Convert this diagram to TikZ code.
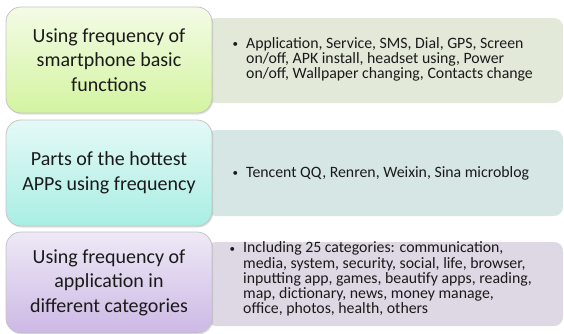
\documentclass[tikz,border=0pt]{standalone}
\usepackage{fontspec}
\setmainfont{Carlito}
\usetikzlibrary{shadows}
\definecolor{rgreen}{HTML}{E2E9D9}
\definecolor{rteal}{HTML}{D5E6E4}
\definecolor{rpurple}{HTML}{DDD8E3}
\definecolor{bordergray}{HTML}{C4C4C4}
\definecolor{txt}{HTML}{1A1A1A}
\definecolor{gtop}{HTML}{F4FBE6}
\definecolor{gbot}{HTML}{D3F4A0}
\definecolor{ttop}{HTML}{E5F9F7}
\definecolor{tbot}{HTML}{A9EEE3}
\definecolor{ptop}{HTML}{EEE9F6}
\definecolor{pbot}{HTML}{CDB9E5}
\tikzset{
  leftbox/.style={draw=bordergray, line width=0.8pt, rounded corners=15pt,
    minimum width=206pt, align=center, text=txt,
    font=\fontsize{20pt}{24.5pt}\selectfont,
    drop shadow={opacity=0.25, shadow xshift=1.2pt, shadow yshift=-1.5pt}},
  rightbox/.style={rounded corners=9pt, minimum width=356pt, inner sep=0pt},
  rtext/.style={anchor=base west, inner sep=0pt, align=left, text=txt,
    font=\fontsize{15.8pt}{15.3pt}\selectfont},
}
\newcommand{\bul}[1]{\makebox[14pt][l]{\hspace{0.5pt}\raisebox{0.6pt}{\fontsize{11pt}{11pt}\selectfont\textbullet}}\parbox[t]{310pt}{#1}}
\begin{document}
\begin{tikzpicture}[x=1pt,y=-1pt]
\useasboundingbox (0,0) rectangle (564,333);
% right boxes
\node[rightbox, fill=rgreen, minimum height=85pt] (r1) at (385,60.5) {};
\node[rightbox, fill=rteal, minimum height=86pt] (r2) at (385,173) {};
\node[rightbox, fill=rpurple, minimum height=84pt] (r3) at (385,284) {};
\node[rtext] (t1) at (232,48)
  {\bul{Application, Service, SMS, Dial, GPS, Screen\\on/off, APK install, headset using, Power\\on/off, Wallpaper changing, Contacts change}};
\node[rtext] (t2) at (232,177.5)
  {\bul{Tencent QQ, Renren, Weixin, Sina microblog}};
\node[rtext] (t3) at (229,252.7)
  {\bul{Including 25 categories: communication,\\media, system, security, social, life, browser,\\inputting app, games, beautify apps, reading,\\map, dictionary, news, money manage,\\office, photos, health, others}};
% left boxes
\node[leftbox, minimum height=106pt, top color=gtop, bottom color=gbot] (l1) at (109,60)
  {Using frequency of\\smartphone basic\\functions};
\node[leftbox, minimum height=106pt, top color=ttop, bottom color=tbot] (l2) at (109,173)
  {Parts of the hottest\\APPs using frequency};
\node[leftbox, minimum height=101pt, top color=ptop, bottom color=pbot] (l3) at (109,282.5)
  {Using frequency of\\application in\\different categories};
\end{tikzpicture}
\end{document}
